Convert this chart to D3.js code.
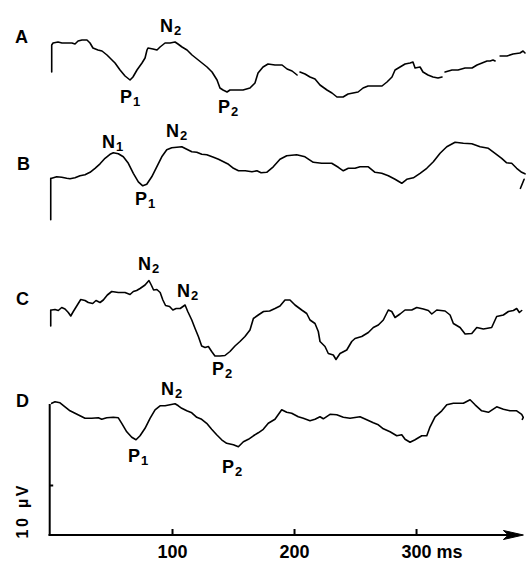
<!DOCTYPE html>
<html>
<head>
<meta charset="utf-8">
<script src="https://cdn.jsdelivr.net/npm/d3@7"></script>
<style>
  html, body { margin: 0; padding: 0; background: #fff; }
  svg { display: block; }
  text { font-family: "Liberation Sans", Arial, Helvetica, sans-serif; fill: #000; }
</style>
</head>
<body>
<script>
// ---- Data: time (ms), amplitude (µV) for each trace; null = pen gap ----
const traceA = [[1.4,-5.4],[1.4,0],[2.5,0.4],[6.6,0.6],[9.8,0.4],[13.9,0.4],[18,0.4],[20.5,0.2],[23,0.8],[26.2,1],[30.3,1],[32.8,0.4],[35.2,-0.6],[39.3,-1],[42.6,-1.2],[46.7,-2],[50.8,-3],[53.3,-3.6],[57.4,-5],[61.5,-6.2],[65.6,-7],[68,-6.4],[71.3,-5],[75.4,-3.6],[77.9,-2.6],[79.5,-1],[80.3,-0.6],[84.4,-0.8],[87.7,-1],[90.2,-0.4],[94.3,0.4],[98.4,0.4],[102.5,0.6],[104.9,0.2],[108.2,-0.4],[112.3,-1],[116.4,-2],[120.5,-2.8],[124.6,-3.6],[128.7,-4.4],[132.8,-5.4],[136.9,-7],[139.3,-8.6],[141.8,-9],[145.1,-9.4],[147.5,-9],[153.3,-9],[158.2,-9],[163.9,-8.6],[168,-7.6],[170.5,-5.6],[174.6,-4.4],[178.7,-3.8],[184.4,-4],[190.2,-4],[194.3,-4.8],[198.4,-5.2],[202.5,-6],[203.6,null],[204.9,-5.4],[209,-5.8],[213.1,-6.4],[217.2,-6.8],[221.3,-8],[227,-9],[231.1,-9.6],[235.2,-10.4],[240.2,-10.4],[244.3,-9.8],[248.4,-9.6],[252.5,-9.4],[256.6,-8.6],[260.7,-8.2],[266.4,-8.2],[272.1,-8.2],[276.2,-7.4],[280.3,-6.4],[282.8,-5],[286.9,-4.4],[291,-3.8],[295.1,-3.6],[297.5,-3.4],[299.2,-4.6],[303.3,-4.4],[305.7,-5.4],[309.8,-6],[313.9,-6.4],[318,-6.6],[321.3,-6.4],[322.5,null],[323.8,-5.4],[329.5,-5],[334.4,-5],[340.2,-4.6],[345.9,-4.6],[350,-4],[354.1,-3.6],[358.2,-3.2],[360.7,-3.2],[363.1,-3],[364.8,-3.2],[367,null],[368.9,-2.2],[374.6,-2.2],[379.5,-1.8],[385.2,-1.6],[387.7,-1.2],[389.3,-1.6]];

const traceB = [[0.6,-8.3],[0.6,0],[1.4,0],[5.5,0.3],[9.6,0.2],[13.7,0],[16.4,-0.1],[20.5,0.1],[24.6,0.5],[28.7,0.7],[32.8,1.2],[36.9,2.0],[41,2.9],[45.1,4.0],[49.2,4.8],[51.9,5.1],[56,4.9],[60.1,4.3],[64.2,3.0],[68.3,1.0],[72.4,-0.7],[76,-1.5],[79.3,-1.2],[83.4,0.3],[87.5,2.3],[91.6,4.3],[95.7,5.7],[99.8,6.1],[103.9,6.2],[108,6.3],[112.1,5.8],[116.2,5.3],[120.3,5.2],[124.4,4.8],[128.5,4.7],[134,4.2],[138.1,3.8],[142.2,3.3],[146.3,2.8],[150.4,2.0],[154.5,1.5],[160,1.5],[165.5,1.3],[169.6,1.5],[173,1.1],[177.6,1.2],[183,2.3],[188.5,3.8],[194,4.5],[202.2,4.7],[209,4.3],[215.8,3.2],[222.7,3.0],[230.9,3.0],[236.3,2.2],[240.4,1.5],[244.5,2.0],[250,2.0],[254.1,2.3],[260.9,2.3],[266.4,1.2],[271.9,1.0],[277.3,0.5],[282.8,-0.2],[288.3,-1.0],[292.4,-0.2],[297.8,0.1],[303.3,1.0],[308.8,2.0],[314.2,3.3],[319.7,5.0],[325.2,6.3],[332,7.2],[338.8,7.0],[345.7,6.9],[352.5,6.3],[359.3,6.0],[364.8,5.0],[370.2,4.0],[374.3,3.1],[378.4,3.0],[382.5,2.0],[386.6,1.2],[389.3,0.9],[389.2,null],[388.6,-0.2],[385.6,-2.0]];

const traceC = [[0.6,-3.2],[0.6,0],[1.4,0],[4.1,0.1],[6.8,-0.1],[9.6,0.5],[12.3,0.2],[15,-0.5],[17,-1.2],[19.1,-0.3],[21.9,0.8],[25.2,2.1],[28.7,1.9],[31.4,1.5],[35,1.3],[37.7,1.9],[41,1.5],[43.7,2.0],[47,3.0],[50.6,3.7],[56,3.5],[61.5,3.5],[65.6,3.1],[68.3,3.7],[71,3.9],[73.8,4.3],[77.9,5.0],[81.1,5.9],[83,5.0],[84.9,4.0],[87.6,4.1],[90.3,3.5],[92.5,2.0],[94.7,0.9],[98,0.7],[100.7,0],[103.4,0.3],[106.7,0.3],[110.7,1.0],[112.9,-0.3],[116.2,-2.0],[118.9,-3.7],[121.6,-5.3],[124.3,-7.2],[127.1,-7.5],[129.8,-7.3],[132.5,-8.3],[135.2,-9.2],[139.3,-9.2],[143.4,-9.1],[147.5,-8.3],[151.6,-7.2],[155.7,-6.3],[159.8,-5.3],[163.9,-4.0],[166.7,-1.7],[170.7,-1.0],[175,-0.3],[180,-0.2],[184.4,0.3],[188.5,0.8],[192.6,2.0],[196.7,2.0],[200.8,1.0],[206.3,0],[210.4,-0.7],[213.1,-2.0],[217.2,-2.7],[219.9,-4.3],[221.3,-6.3],[225.4,-7.3],[228.1,-8.7],[232.2,-9.0],[234.4,-9.9],[237.7,-8.7],[243.2,-8.0],[247.3,-6.3],[250,-5.7],[255.5,-5.3],[260.9,-4.5],[265,-3.5],[269.1,-3.0],[273.2,-2.0],[277.3,0],[280.1,-0.3],[282.8,-1.5],[286.9,-0.8],[291,0],[296.5,0],[300.6,0.5],[306,0.2],[310.1,-0.1],[312.9,-0.8],[317,0],[323.8,-0.2],[327.9,-1.0],[330.6,-2.7],[336.1,-3.5],[340.2,-4.8],[345.7,-4.7],[349.8,-3.5],[355.2,-3.8],[362,-3.5],[366.1,-1.3],[371.6,-1.0],[375.7,-0.3],[379.8,-0.1],[382.5,0.3],[384.7,-0.5],[386.6,-0.1]];

const traceD = [[1.4,0],[4.1,0.3],[8.2,0.1],[12.3,-0.7],[16.4,-1.5],[20.5,-2.0],[24.6,-2.5],[28.7,-3.0],[34.2,-3.0],[39.6,-2.9],[42.4,-3.2],[46.5,-2.9],[51.9,-2.8],[56,-2.9],[58.8,-4.0],[62.9,-5.7],[67,-6.8],[70.5,-7.3],[73.8,-6.5],[77.9,-5.0],[82,-3.0],[86.1,-1.3],[90.2,-0.5],[94.3,-0.5],[98.4,-0.3],[102.5,-0.1],[105.2,-0.5],[108,-1.0],[112.1,-1.5],[116.2,-1.9],[120.3,-2.8],[124.3,-3.2],[128.4,-4.0],[132.5,-5.2],[136.6,-6.3],[140.7,-7.3],[144.8,-8.0],[150.3,-8.3],[154.4,-8.7],[158.5,-7.7],[162.6,-7.2],[166.7,-6.5],[170.7,-5.9],[174.8,-5.2],[178.9,-4.0],[184.4,-3.2],[189.9,-1.3],[194,-1.8],[198.1,-2.0],[203.5,-2.7],[207.6,-3.0],[213.1,-3.5],[217.2,-3.2],[221.3,-2.7],[224,-3.1],[229.5,-2.2],[235,-2.3],[240.4,-2.8],[245.9,-3.0],[254.1,-2.7],[259.6,-3.3],[265,-3.9],[269.1,-4.3],[273.2,-5.1],[278.7,-5.7],[284.2,-6.5],[288.3,-6.3],[291,-7.2],[295.1,-7.8],[299.2,-7.3],[304.7,-6.5],[308.8,-6.5],[311.5,-4.7],[315.6,-2.7],[321.1,-1.5],[325.2,-0.3],[330.6,0],[338.8,0],[344.3,0.7],[348.4,-0.3],[353.8,-1.5],[359.3,-1.8],[366.1,-0.7],[371.6,-1.2],[377,-1.5],[382.5,-1.5],[386.6,-2.2],[387.9,-2.8],[387.1,-3.2]];

const rowNames = ["A", "B", "C", "D"];
const xTicks = [100, 200, 300];
const xTickLabels = ["100", "200", "300 ms"];
const calTick = [10];
const calLabel = "10 \u00B5V";

// Peak annotations: [row, letter, subscript, time (ms), amplitude (µV)]
const peakLabels = [
  [0, "N", "2", 90.2, 2.6], [0, "P", "1", 57.4, -11.6], [0, "P", "2", 137.7, -13.6],
  [1, "N", "1", 42.6, 6.1], [1, "N", "2", 95.1, 8.3], [1, "P", "1", 69.7, -5.3],
  [2, "N", "2", 72.1, 8.0], [2, "N", "2", 104.1, 2.6], [2, "P", "2", 132.8, -13.0],
  [3, "N", "2", 91.0, 1.7], [3, "P", "1", 63.9, -11.7], [3, "P", "2", 141.0, -13.9]
];

// ---- Layout ----
const W = 531, H = 561;
const rowBase = [45, 178.3, 310, 403.3];   // pixel y of each trace's 0 µV
const pxPerUV = 5;
const axisY = 535;

const svg = d3.select("body").append("svg").attr("width", W).attr("height", H);

const x = d3.scaleLinear().domain([0, 388]).range([50, 523.4]);
const rowScale = i => d3.scaleLinear().domain([0, 10]).range([rowBase[i], rowBase[i] - 10 * pxPerUV]);
const traces = [traceA, traceB, traceC, traceD];

traces.forEach((tr, i) => {
  const y = rowScale(i);
  const line = d3.line().defined(d => d[1] !== null).x(d => x(d[0])).y(d => y(d[1])).curve(d3.curveLinear);
  svg.append("path").datum(tr)
    .attr("d", line)
    .attr("fill", "none")
    .attr("stroke", "#000")
    .attr("stroke-width", 1.6)
    .attr("stroke-linejoin", "round")
    .attr("stroke-linecap", "round");
  svg.append("text")
    .attr("x", [15, 17, 16, 16][i])
    .attr("y", [43, 170, 305, 407][i])
    .attr("font-size", 18)
    .attr("font-weight", "bold")
    .text(rowNames[i]);
});

// Peak labels
peakLabels.forEach(([r, L, s, t, v]) => {
  const y = rowScale(r);
  const tx = svg.append("text")
    .attr("x", x(t)).attr("y", y(v))
    .attr("font-size", 18).attr("font-weight", "bold");
  tx.append("tspan").text(L);
  tx.append("tspan").attr("font-size", 13).attr("dx", 1).attr("dy", 3).text(s);
});

// Time axis
const xAxis = d3.axisBottom(x)
  .tickValues(xTicks)
  .tickFormat((d, i) => xTickLabels[i])
  .tickSizeInner(-6).tickSizeOuter(0).tickPadding(10);
const gx = svg.append("g").attr("transform", `translate(0,${axisY})`).call(xAxis);
gx.select(".domain").attr("stroke", "#000").attr("stroke-width", 2.2)
  .attr("d", `M${x(0) - 1.5},0H${x(388) - 6}`);
gx.selectAll(".tick line").attr("stroke", "#000").attr("stroke-width", 2);
gx.selectAll(".tick text")
  .attr("font-size", 18).attr("font-weight", "bold")
  .attr("font-family", '"Liberation Sans", Arial, sans-serif')
  .attr("fill", "#000");
gx.selectAll(".tick").filter(d => d === 300).select("text")
  .attr("text-anchor", "start").attr("x", -15);
// arrowhead
gx.append("path")
  .attr("d", `M${x(388)},0L${x(388) - 20},-4.5L${x(388) - 15},0L${x(388) - 20},4.5Z`)
  .attr("fill", "#000").attr("stroke", "#000").attr("stroke-width", 1);

// Calibration (amplitude) axis
const yCal = d3.scaleLinear().domain([0, 26.3]).range([axisY, axisY - 26.3 * pxPerUV]);
const yAxis = d3.axisRight(yCal).tickValues(calTick).tickFormat("").tickSizeInner(4).tickSizeOuter(0);
const gy = svg.append("g").attr("transform", `translate(${x(0) - 0.8},0)`).call(yAxis);
gy.select(".domain").attr("stroke", "#000").attr("stroke-width", 2);
gy.selectAll(".tick line").attr("stroke", "#000").attr("stroke-width", 2);

svg.append("text")
  .attr("transform", `translate(27.5,${yCal(4.6)}) rotate(-90)`)
  .attr("text-anchor", "middle")
  .attr("font-size", 16).attr("font-weight", "bold")
  .attr("textLength", 53).attr("lengthAdjust", "spacing")
  .text(calLabel);
</script>
</body>
</html>
